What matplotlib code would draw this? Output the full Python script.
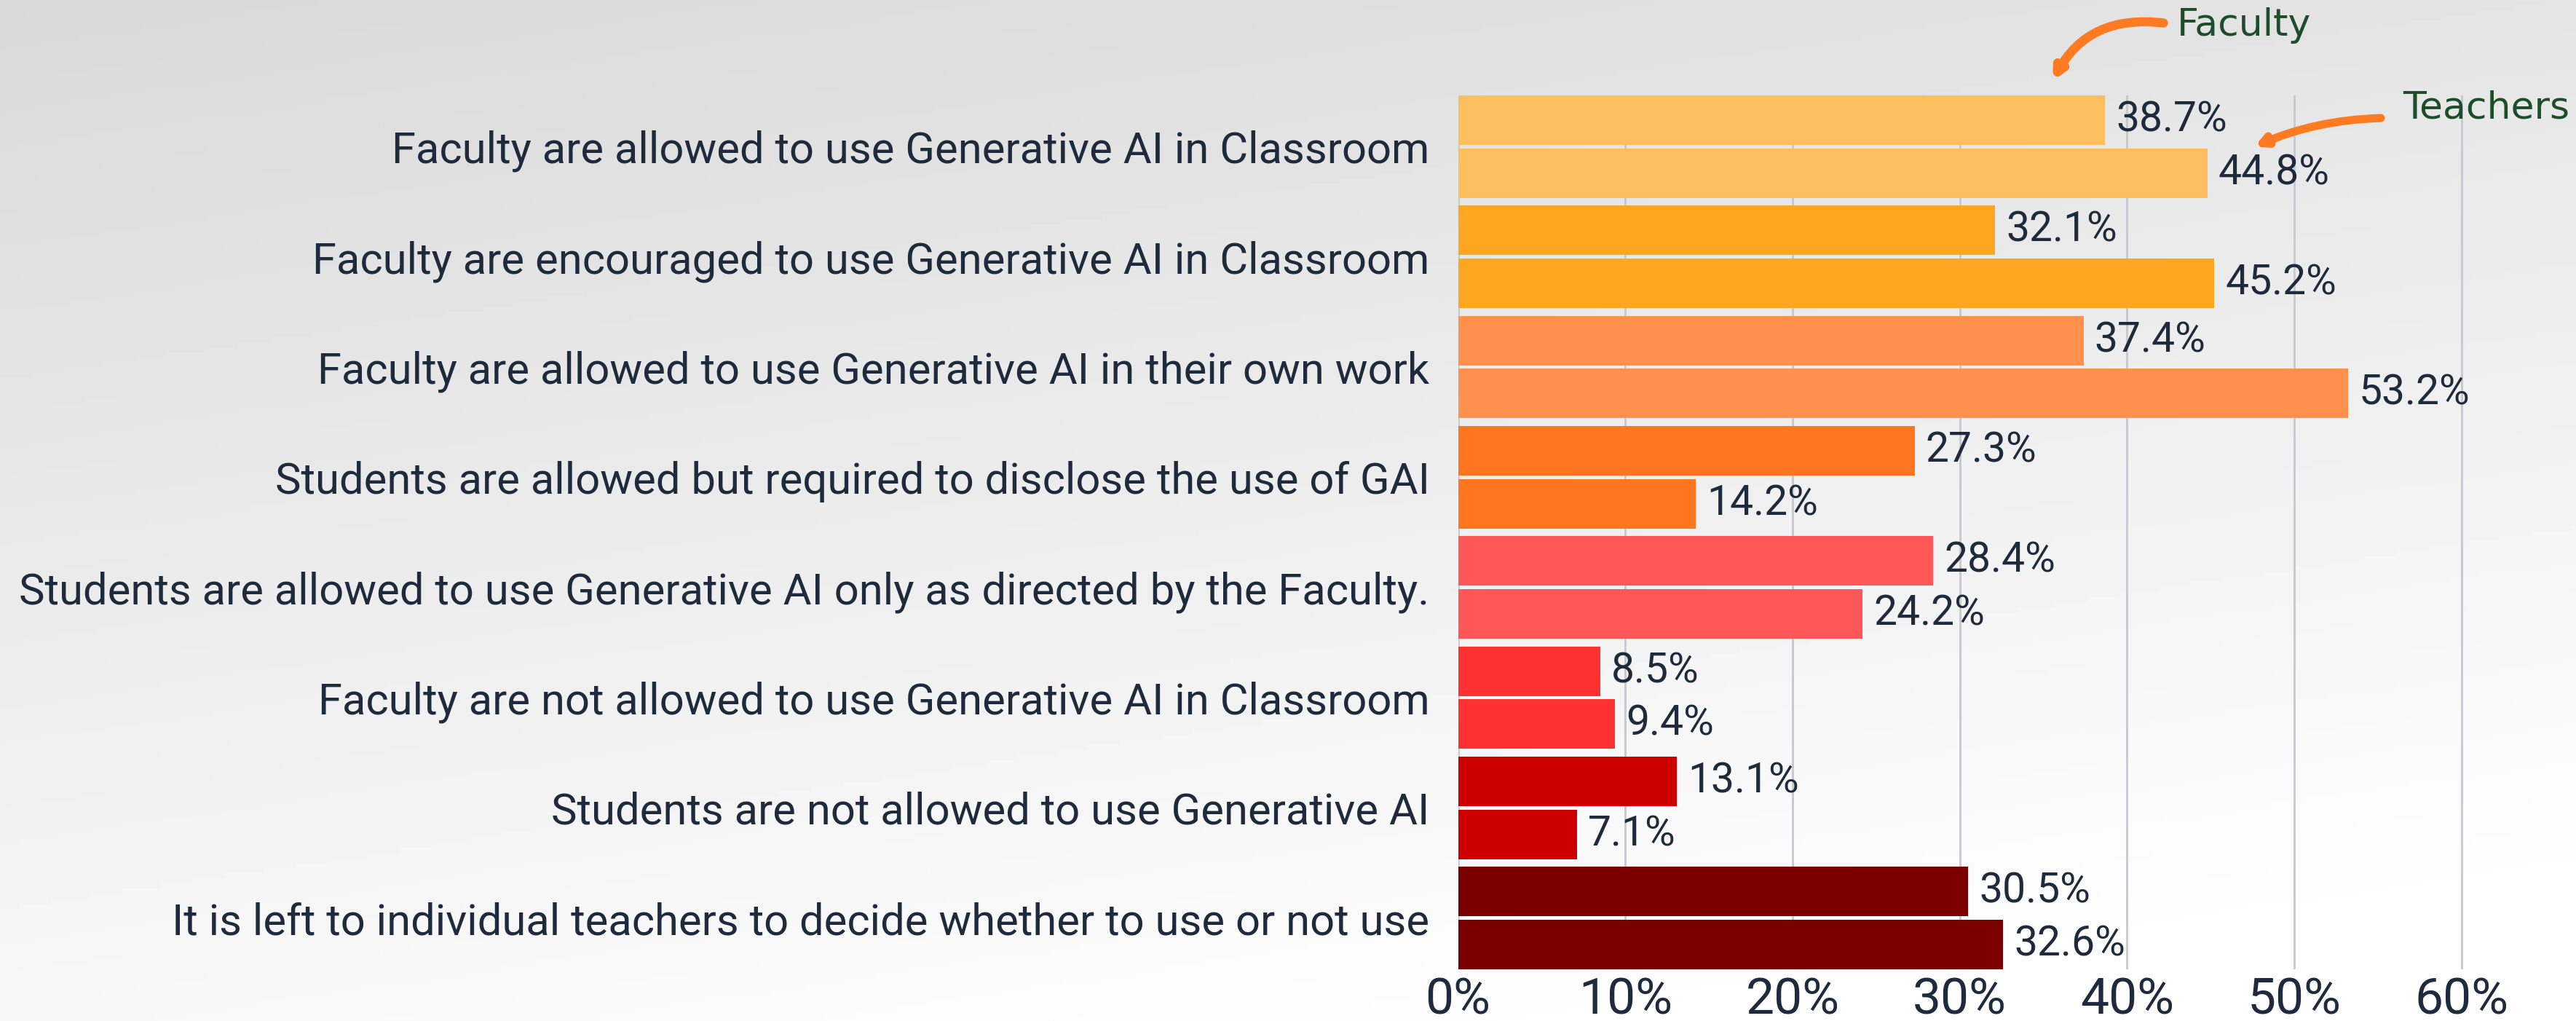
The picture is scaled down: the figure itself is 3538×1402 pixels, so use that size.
import numpy as np
import matplotlib
matplotlib.use("Agg")
import matplotlib.pyplot as plt

plt.rcParams['font.family'] = ['Roboto', 'DejaVu Sans']

# donnees
categories = [
    "Faculty are allowed to use Generative AI in Classroom",
    "Faculty are encouraged to use Generative AI in Classroom",
    "Faculty are allowed to use Generative AI in their own work",
    "Students are allowed but required to disclose the use of GAI",
    "Students are allowed to use Generative AI only as directed by the Faculty.",
    "Faculty are not allowed to use Generative AI in Classroom",
    "Students are not allowed to use Generative AI",
    "It is left to individual teachers to decide whether to use or not use",
]
faculty = [38.7, 32.1, 37.4, 27.3, 28.4, 8.5, 13.1, 30.5]
teachers = [44.8, 45.2, 53.2, 14.2, 24.2, 9.4, 7.1, 32.6]
xticks = [0, 10, 20, 30, 40, 50, 60]
xticklabels = ["0%", "10%", "20%", "30%", "40%", "50%", "60%"]

colors = ['#FDBE5E', '#FFA621', '#FF914D', '#FF7520',
          '#FF5757', '#FF3131', '#CC0000', '#7A0000']
txt = '#1E2B3C'
green = '#1D4D2B'
arrow_col = '#FF7A21'

fig = plt.figure(figsize=(35.38, 14.02), dpi=100)

# fond en degrade gris -> blanc
bg = fig.add_axes([0, 0, 1, 1])
yy, xx = np.mgrid[0:1:200j, 0:1:400j]
grad = 0.85 + 0.15 * np.clip(0.8 * yy + 0.3 * xx, 0, 1)
bg.imshow(grad, cmap='gray', vmin=0, vmax=1, aspect='auto', extent=[0, 1, 1, 0])
bg.axis('off')

ax = fig.add_axes([0.566, 0.0506, 0.422, 0.856])
ax.patch.set_alpha(0)

h = 0.45
off = 0.24
y = np.arange(len(categories))
b1 = ax.barh(y - off, faculty, height=h, color=colors, zorder=3)
b2 = ax.barh(y + off, teachers, height=h, color=colors, zorder=3)

for bars in (b1, b2):
    ax.bar_label(bars, labels=["%.1f%%" % b.get_width() for b in bars],
                 padding=11, fontsize=41, color=txt)

ax.set_ylim(len(categories) - 1 + 0.465, -0.465)
ax.set_xlim(0, 65)
ax.set_yticks(y)
ax.set_yticklabels(categories, fontsize=43, color=txt)
ax.set_xticks(xticks)
ax.set_xticklabels(xticklabels, fontsize=50, color=txt)
ax.tick_params(axis='y', length=0, pad=28)
ax.tick_params(axis='x', length=0, pad=7)
ax.grid(axis='x', color='#C5C8CC', lw=2, zorder=0)
for s in ax.spines.values():
    s.set_visible(False)

# annotations Faculty / Teachers
ax.annotate("", xy=(35.5, -0.58), xytext=(42.3, -1.12),
            arrowprops=dict(arrowstyle='-|>,head_length=0.8,head_width=0.4',
                            color=arrow_col, lw=9,
                            connectionstyle='arc3,rad=0.35'),
            annotation_clip=False)
ax.text(43.0, -1.1, "Faculty", fontsize=37.5, color=green, va='center',
        ha='left', family='Liberation Sans Narrow')
ax.annotate("", xy=(47.5, 0.01), xytext=(55.3, -0.26),
            arrowprops=dict(arrowstyle='-|>,head_length=0.8,head_width=0.4',
                            color=arrow_col, lw=8,
                            connectionstyle='arc3,rad=0.1'),
            annotation_clip=False)
ax.text(56.5, -0.35, "Teachers", fontsize=37.5, color=green, va='center',
        ha='left', family='Liberation Sans Narrow')

fig.savefig("out.png", dpi=100)
